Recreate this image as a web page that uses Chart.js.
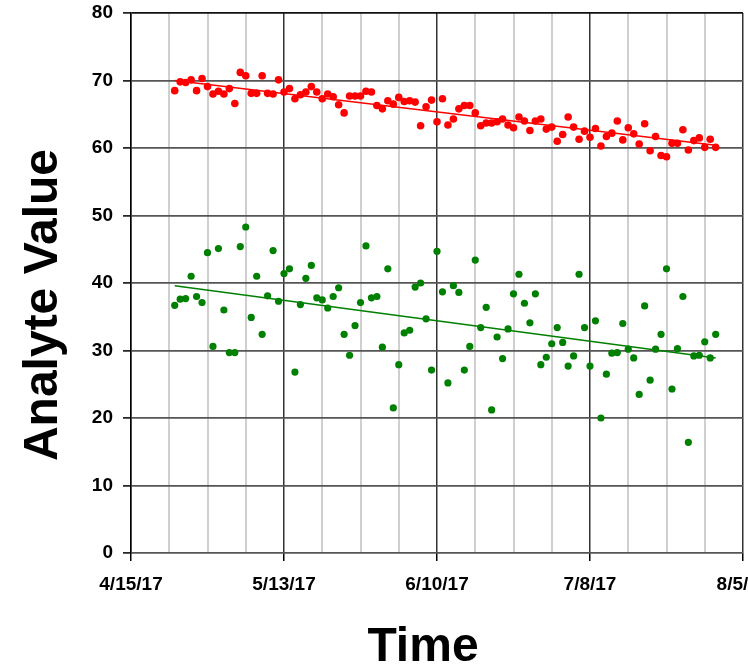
<!DOCTYPE html>
<html>
<head>
<meta charset="utf-8">
<script src="https://cdn.jsdelivr.net/npm/chart.js@4"></script>
<style>
  html, body { margin: 0; padding: 0; background: #fff; overflow: hidden; }
  canvas { display: block; }
</style>
</head>
<body>
<canvas id="chart" width="800" height="666"></canvas>
<script>
// x axis runs from 4/15/17 to 8/5/17, values are days since 4/15/17
const axisStart = Date.UTC(2017, 3, 15);
const axisDays = 112;
const firstSampleDay = 8; // 4/23/17, one sample per day after that

const redValues = [
  68.5, 69.8, 69.7, 70.1, 68.5, 70.3, 69.1, 68.0, 68.4, 68.0,
  68.8, 66.6, 71.2, 70.7, 68.1, 68.1, 70.7, 68.1, 68.0, 70.1,
  68.3, 68.8, 67.3, 67.9, 68.3, 69.1, 68.3, 67.3, 68.0, 67.6,
  66.4, 65.2, 67.7, 67.7, 67.7, 68.4, 68.3, 66.3, 65.8, 67.0,
  66.5, 67.5, 66.9, 67.0, 66.8, 63.3, 66.1, 67.1, 63.9, 67.3,
  63.4, 64.3, 65.8, 66.3, 66.3, 65.2, 63.3, 63.7, 63.7, 63.9,
  64.3, 63.4, 63.0, 64.6, 64.0, 62.6, 64.0, 64.3, 62.8, 63.1,
  61.0, 62.0, 64.6, 63.1, 61.3, 62.5, 61.6, 62.9, 60.3, 61.7,
  62.2, 64.0, 61.2, 63.0, 62.1, 60.6, 63.6, 59.6, 61.7, 58.9,
  58.7, 60.7, 60.7, 62.7, 59.7, 61.1, 61.5, 60.1, 61.3, 60.1
];

const greenValues = [
  36.7, 37.6, 37.7, 41.0, 38.0, 37.1, 44.5, 30.6, 45.1, 36.0,
  29.7, 29.7, 45.4, 48.3, 34.9, 41.0, 32.4, 38.1, 44.8, 37.3,
  41.4, 42.1, 26.8, 36.8, 40.7, 42.6, 37.8, 37.5, 36.3, 38.0,
  39.3, 32.4, 29.3, 33.7, 37.1, 45.5, 37.8, 38.0, 30.5, 42.1,
  21.5, 27.9, 32.6, 33.0, 39.4, 40.0, 34.7, 27.1, 44.7, 38.7,
  25.2, 39.6, 38.6, 27.1, 30.6, 43.4, 33.4, 36.4, 21.2, 32.0,
  28.8, 33.2, 38.4, 41.3, 37.0, 34.1, 38.4, 27.9, 29.0, 31.0,
  33.4, 31.2, 27.7, 29.2, 41.3, 33.4, 27.7, 34.4, 20.0, 26.5,
  29.6, 29.7, 34.0, 30.2, 28.9, 23.5, 36.6, 25.6, 30.2, 32.4,
  42.1, 24.3, 30.3, 38.0, 16.4, 29.2, 29.3, 31.3, 28.9, 32.4
];

// trend line end values (first and last sample day)
const redTrend = [70.0, 60.4];
const greenTrend = [39.6, 28.9];

const yTicks = [0, 10, 20, 30, 40, 50, 60, 70, 80];
const xTitle = 'Time';
const yTitle = 'Analyte Value';

const sampleDays = redValues.map((_, i) => firstSampleDay + i);
const lastSampleDay = sampleDays[sampleDays.length - 1];

function toPoints(values) {
  return values.map((v, i) => ({ x: sampleDays[i], y: v }));
}

function trendPoints(ends) {
  return [{ x: firstSampleDay, y: ends[0] }, { x: lastSampleDay, y: ends[1] }];
}

function dateLabel(day) {
  const d = new Date(axisStart + day * 86400000);
  return (d.getUTCMonth() + 1) + '/' + d.getUTCDate() + '/' + String(d.getUTCFullYear()).slice(2);
}

const isMajor = (v) => v % 28 === 0;

// axis titles drawn by hand so they sit where the original has them
const axisTitles = {
  id: 'axisTitles',
  afterDraw(chart) {
    const ctx = chart.ctx;
    ctx.save();
    ctx.fillStyle = '#000';
    ctx.font = 'bold 48px "Liberation Sans", Arial, sans-serif';
    ctx.textAlign = 'center';
    ctx.textBaseline = 'alphabetic';
    ctx.fillText(xTitle, 423, 661);
    ctx.translate(57, 305);
    ctx.rotate(-Math.PI / 2);
    ctx.fillText(yTitle, 0, 0);
    ctx.restore();
  }
};

const tickFont = { family: '"Liberation Sans", Arial, sans-serif', size: 19, weight: 'bold' };

new Chart(document.getElementById('chart'), {
  type: 'scatter',
  plugins: [axisTitles],
  data: {
    datasets: [
      {
        data: toPoints(redValues),
        backgroundColor: '#ff0000',
        borderColor: '#ff0000',
        pointRadius: 3.8,
        pointBorderWidth: 0,
        order: 1,
      },
      {
        data: toPoints(greenValues),
        backgroundColor: '#008000',
        borderColor: '#008000',
        pointRadius: 3.6,
        pointBorderWidth: 0,
        order: 1,
      },
      {
        data: trendPoints(redTrend),
        showLine: true,
        borderColor: '#ff0000',
        borderWidth: 1.6,
        pointRadius: 0,
        order: 2,
      },
      {
        data: trendPoints(greenTrend),
        showLine: true,
        borderColor: '#008000',
        borderWidth: 1.6,
        pointRadius: 0,
        order: 2,
      },
    ]
  },
  options: {
    responsive: false,
    animation: false,
    layout: {
      padding: { top: 13, right: 57, left: 0, bottom: 0 }
    },
    scales: {
      x: {
        type: 'linear',
        min: 0,
        max: axisDays,
        afterFit: (scale) => { scale.height = 113; },
        ticks: {
          stepSize: 7,
          autoSkip: false,
          maxRotation: 0,
          padding: 12,
          color: '#000',
          font: tickFont,
          callback: (v) => isMajor(v) ? dateLabel(v) : '',
        },
        grid: {
          color: (c) => isMajor(c.tick.value) ? '#333' : '#cfcfcf',
          lineWidth: (c) => isMajor(c.tick.value) ? 1.5 : 2,
          tickColor: (c) => isMajor(c.tick.value) ? '#000' : 'rgba(0,0,0,0)',
          tickLength: 8,
          tickWidth: 1.5,
        },
        border: { display: false },
      },
      y: {
        min: 0,
        max: 80,
        afterFit: (scale) => {
          scale.width = 131;
          scale.paddingTop = 0;
          scale.paddingBottom = 0;
        },
        afterBuildTicks: (scale) => { scale.ticks = yTicks.map(v => ({ value: v })); },
        ticks: {
          padding: 10,
          color: '#000',
          font: tickFont,
        },
        grid: {
          color: (c) => c.tick.value === 80 ? '#111' : '#555',
          lineWidth: 1.8,
          tickColor: '#000',
          tickLength: 8,
          tickWidth: 1.5,
        },
        border: { color: '#000', width: 1.5 },
      },
    },
    plugins: {
      legend: { display: false },
      tooltip: { enabled: false },
    },
  },
});
</script>
</body>
</html>
